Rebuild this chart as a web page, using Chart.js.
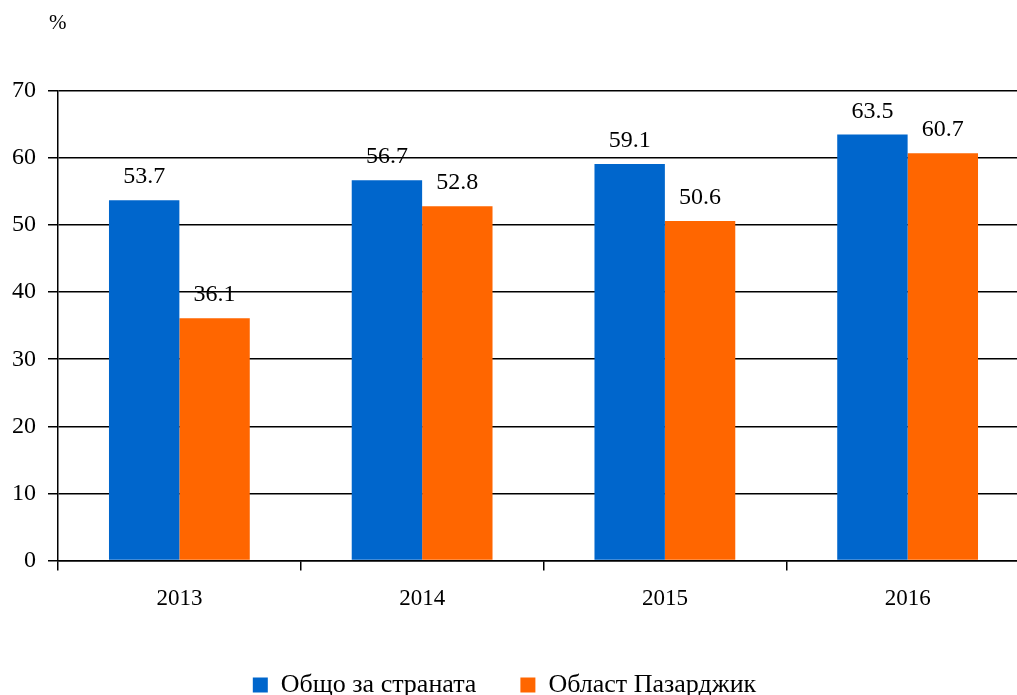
<!DOCTYPE html>
<html>
<head>
<meta charset="utf-8">
<script src="https://cdn.jsdelivr.net/npm/chart.js@4/dist/chart.umd.min.js"></script>
<style>
  html, body { margin: 0; padding: 0; background: #fff; overflow: hidden; }
  #wrap { position: relative; width: 1029px; height: 695px; }
</style>
</head>
<body>
<div id="wrap"><canvas id="chart"></canvas></div>
<script>
// données du graphique
const years = ['2013', '2014', '2015', '2016'];
const country = [53.7, 56.7, 59.1, 63.5];
const pazardzhik = [36.1, 52.8, 50.6, 60.7];
const seriesNames = ['Общо за страната', 'Област Пазарджик'];
const unitLabel = '%';

const serif = 'Liberation Serif, Times New Roman, serif';

// étiquettes des valeurs au-dessus des barres + le signe %
const valueLabels = {
    id: 'valueLabels',
    afterLayout(chart) {
        // légende un peu décalée vers la gauche comme l'original
        chart.legend.left -= 10;
        chart.legend.right -= 10;
    },
    afterDatasetsDraw(chart) {
        const ctx = chart.ctx;
        ctx.save();
        ctx.fillStyle = '#000';
        ctx.font = '24px ' + serif;
        ctx.textAlign = 'center';
        ctx.textBaseline = 'alphabetic';
        chart.data.datasets.forEach((ds, i) => {
            chart.getDatasetMeta(i).data.forEach((bar, j) => {
                ctx.fillText(ds.data[j].toFixed(1), bar.x, bar.y - 17);
            });
        });
        ctx.font = '21px ' + serif;
        ctx.textAlign = 'left';
        ctx.fillText(unitLabel, 49, 29);
        ctx.restore();
    }
};

new Chart(document.getElementById('chart').getContext('2d'), {
    type: 'bar',
    data: {
        labels: years,
        datasets: [
            {
                label: seriesNames[0],
                data: country,
                backgroundColor: '#0066CC',
                barPercentage: 1,
                categoryPercentage: 0.58
            },
            {
                label: seriesNames[1],
                data: pazardzhik,
                backgroundColor: '#FF6600',
                barPercentage: 1,
                categoryPercentage: 0.58
            }
        ]
    },
    options: {
        responsive: true,
        maintainAspectRatio: false,
        animation: false,
        layout: {
            padding: { top: 91, left: 0, right: 0, bottom: -13 }
        },
        plugins: {
            title: { display: false },
            tooltip: { enabled: false },
            legend: {
                position: 'bottom',
                labels: {
                    color: '#000',
                    boxWidth: 15,
                    boxHeight: 15,
                    padding: 44,
                    font: { family: serif, size: 26 }
                }
            }
        },
        scales: {
            y: {
                min: 0,
                max: 70,
                ticks: {
                    stepSize: 10,
                    color: '#000',
                    padding: 12,
                    font: { family: serif, size: 24 }
                },
                grid: {
                    color: '#000',
                    lineWidth: 1.5,
                    tickLength: 10
                },
                border: { color: '#000', width: 1.5 }
            },
            x: {
                ticks: {
                    color: '#000',
                    padding: 15,
                    font: { family: serif, size: 23 }
                },
                grid: {
                    offset: true,
                    drawOnChartArea: false,
                    color: '#000',
                    lineWidth: 1.5,
                    tickLength: 10
                },
                border: { color: '#000', width: 1.5 }
            }
        }
    },
    plugins: [valueLabels]
});
</script>
</body>
</html>
